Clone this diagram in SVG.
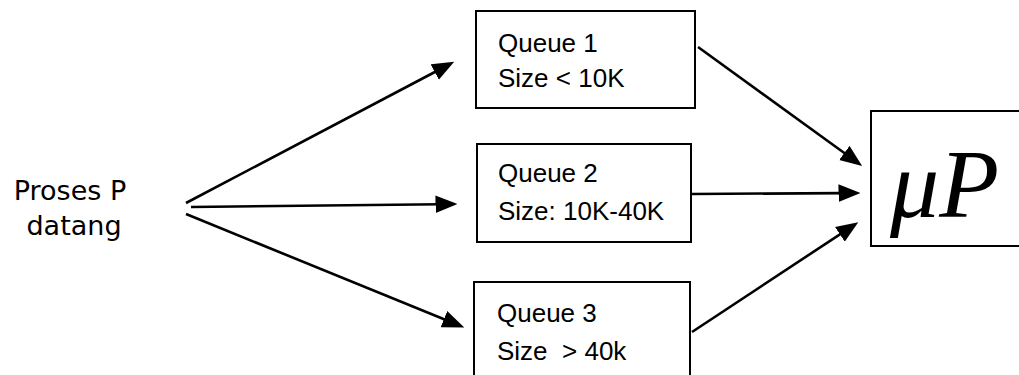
<svg xmlns="http://www.w3.org/2000/svg" width="1019" height="375" viewBox="0 0 1019 375">
<style>
.box{fill:#fff;stroke:#000;stroke-width:2}
.q{font-family:"Liberation Sans",Arial,sans-serif;font-size:26px;fill:#000}
.src{font-family:"DejaVu Sans",Verdana,sans-serif;font-size:27px;fill:#000}
.mu{font-family:"Liberation Serif","Times New Roman",serif;font-style:italic;font-size:98px;fill:#000}
.c line{stroke:#000;stroke-width:2.6;marker-end:url(#ah)}
</style>
<defs>
<marker id="ah" markerUnits="userSpaceOnUse" markerWidth="22" markerHeight="18" refX="5" refY="8" orient="auto" viewBox="0 0 20 16">
<path d="M0,0 L20,8 L0,16 z" fill="#000"/>
</marker>
</defs>
<rect width="1019" height="375" fill="#fff"/>
<g id="source">
<text class="src" x="70" y="200" text-anchor="middle">Proses P</text>
<text class="src" x="74" y="235" text-anchor="middle">datang</text>
</g>
<g id="queue1">
<rect class="box" x="476" y="11" width="219" height="97"/>
<text class="q" x="498" y="52">Queue 1</text>
<text class="q" x="498" y="87">Size &lt; 10K</text>
</g>
<g id="queue2">
<rect class="box" x="477" y="144" width="214" height="98"/>
<text class="q" x="498" y="182">Queue 2</text>
<text class="q" x="498" y="220">Size: 10K-40K</text>
</g>
<g id="queue3">
<rect class="box" x="474" y="282" width="216" height="110"/>
<text class="q" x="497" y="322">Queue 3</text>
<text class="q" x="497" y="360" xml:space="preserve">Size  &gt; 40k</text>
</g>
<g id="cpu">
<rect class="box" x="871" y="111" width="170" height="135"/>
<text class="mu" x="890" y="217">μP</text>
</g>
<g class="c" id="connectors">
<line x1="186" y1="203" x2="439.6" y2="69.5"/>
<line x1="191" y1="207" x2="441" y2="204.2"/>
<line x1="186" y1="214" x2="449" y2="321.3"/>
<line x1="698" y1="47" x2="848.8" y2="156.2"/>
<line x1="692" y1="194" x2="844" y2="193.1"/>
<line x1="692" y1="332" x2="844.5" y2="231.3"/>
</g>
</svg>
